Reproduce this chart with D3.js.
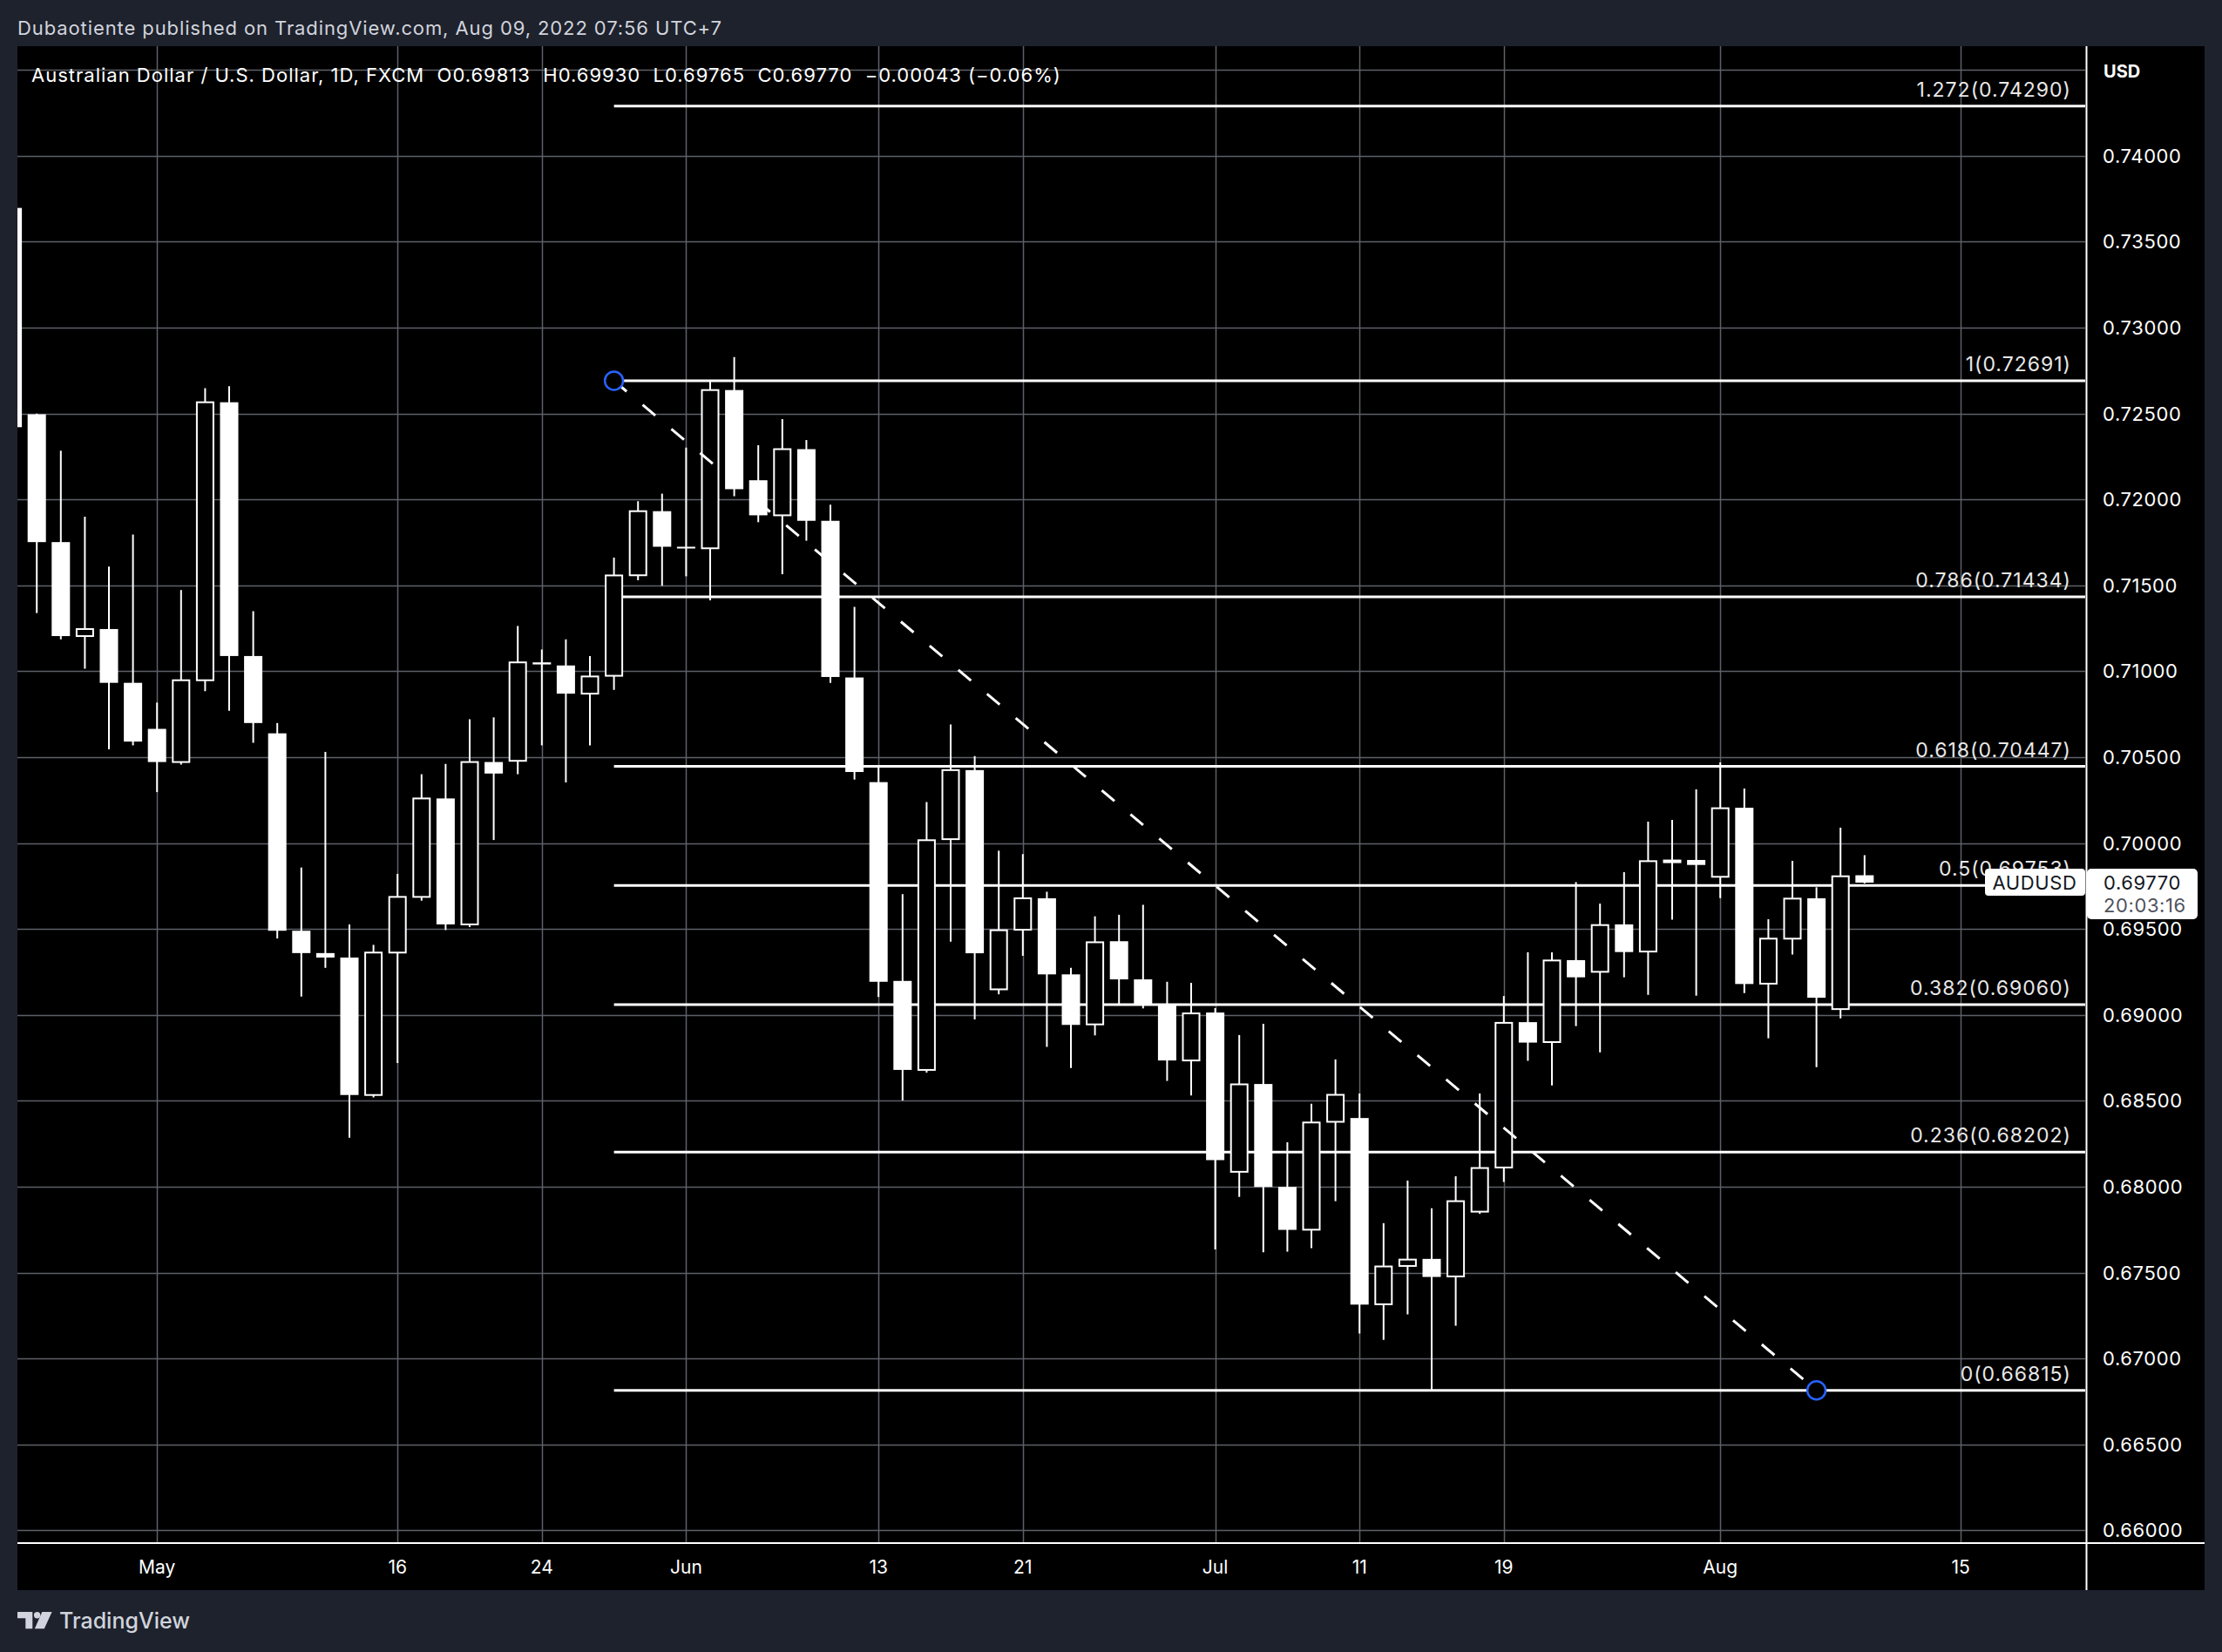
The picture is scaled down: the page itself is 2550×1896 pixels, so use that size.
<!DOCTYPE html>
<html><head><meta charset="utf-8">
<script src="https://cdn.jsdelivr.net/npm/d3@7"></script>
<style>html,body{margin:0;padding:0;background:#1e222d;}svg{display:block}</style>
</head><body>
<svg id="chart" width="2550" height="1896"></svg>
<script>
// ---------- DATA ----------
const dates = ["2022-04-22","2022-04-25","2022-04-26","2022-04-27","2022-04-28","2022-04-29",
"2022-05-02","2022-05-03","2022-05-04","2022-05-05","2022-05-06","2022-05-09","2022-05-10","2022-05-11","2022-05-12","2022-05-13",
"2022-05-16","2022-05-17","2022-05-18","2022-05-19","2022-05-20","2022-05-23","2022-05-24","2022-05-25","2022-05-26","2022-05-27",
"2022-05-30","2022-05-31","2022-06-01","2022-06-02","2022-06-03","2022-06-06","2022-06-07","2022-06-08","2022-06-09","2022-06-10",
"2022-06-13","2022-06-14","2022-06-15","2022-06-16","2022-06-17","2022-06-20","2022-06-21","2022-06-22","2022-06-23","2022-06-24",
"2022-06-27","2022-06-28","2022-06-29","2022-06-30","2022-07-01","2022-07-04","2022-07-05","2022-07-06","2022-07-07","2022-07-08",
"2022-07-11","2022-07-12","2022-07-13","2022-07-14","2022-07-15","2022-07-18","2022-07-19","2022-07-20","2022-07-21","2022-07-22",
"2022-07-25","2022-07-26","2022-07-27","2022-07-28","2022-07-29","2022-08-01","2022-08-02","2022-08-03","2022-08-04","2022-08-05",
"2022-08-08","2022-08-09"];
const futureDates = ["2022-08-10","2022-08-11","2022-08-12","2022-08-15","2022-08-16","2022-08-17","2022-08-18","2022-08-19","2022-08-22"];

const opens = [0.73697,0.72496,0.71752,0.71205,0.71246,0.70933,0.70665,0.70472,0.70948,0.72566,0.71089,0.70639,0.69490,0.69360,0.69334,0.68534,
0.69363,0.69687,0.70260,0.69527,0.70472,0.70479,0.71052,0.71034,0.70870,0.70974,0.71559,0.71932,0.71725,0.71716,0.72637,0.72112,0.71908,0.72293,0.71876,0.70964,
0.70355,0.69198,0.68680,0.70023,0.70425,0.69149,0.69496,0.69679,0.69236,0.68945,0.69429,0.69207,0.69061,0.68735,0.69014,0.68087,0.68598,0.67999,0.67750,0.68378,
0.68400,0.67316,0.67539,0.67580,0.67478,0.67855,0.68112,0.68958,0.68842,0.69319,0.69251,0.69527,0.69369,0.69895,0.69902,0.69804,0.70206,0.69182,0.69444,0.69679,
0.69034,0.69813];
const highs = [0.73780,0.72500,0.72284,0.71900,0.71610,0.71796,0.70818,0.71473,0.72648,0.72659,0.71350,0.70699,0.69858,0.70531,0.69527,0.69408,
0.69821,0.70401,0.70461,0.70721,0.70732,0.71264,0.71127,0.71186,0.71089,0.71662,0.71990,0.72034,0.72302,0.72689,0.72829,0.72316,0.72468,0.72346,0.71970,0.71375,
0.70440,0.69703,0.70239,0.70690,0.70507,0.69956,0.69936,0.69717,0.69274,0.69574,0.69583,0.69641,0.69193,0.69187,0.69040,0.68883,0.68949,0.68259,0.68483,0.68741,
0.68543,0.67788,0.68036,0.67874,0.68061,0.68543,0.69110,0.69365,0.69364,0.69773,0.69648,0.69831,0.70125,0.70135,0.70313,0.70470,0.70318,0.69557,0.69897,0.69743,
0.70090,0.69930];
const lows = [0.72380,0.71339,0.71186,0.71015,0.70546,0.70569,0.70297,0.70457,0.70885,0.70770,0.70584,0.69445,0.69107,0.69274,0.68285,0.68520,
0.68720,0.69665,0.69494,0.69512,0.70018,0.70401,0.70569,0.70353,0.70569,0.70892,0.71530,0.71498,0.71553,0.71413,0.72019,0.71868,0.71565,0.71760,0.70932,0.70370,
0.69105,0.68502,0.68665,0.69426,0.68974,0.69120,0.69344,0.68814,0.68691,0.68881,0.69061,0.69038,0.68616,0.68531,0.67635,0.67941,0.67618,0.67622,0.67642,0.67916,
0.67145,0.67109,0.67257,0.66815,0.67191,0.67842,0.68028,0.68733,0.68590,0.68935,0.68782,0.69219,0.69117,0.69554,0.69112,0.69680,0.69127,0.68864,0.69351,0.68696,
0.68980,0.69765];
const closes = [0.72421,0.71752,0.71205,0.71246,0.70933,0.70591,0.70472,0.70948,0.72566,0.71089,0.70699,0.69490,0.69360,0.69334,0.68534,0.69363,
0.69687,0.70260,0.69527,0.70472,0.70405,0.71052,0.71040,0.70870,0.70970,0.71558,0.71932,0.71725,0.71720,0.72637,0.72060,0.71908,0.72293,0.71876,0.70967,0.70414,
0.69193,0.68680,0.70017,0.70425,0.69359,0.69493,0.69679,0.69236,0.68942,0.69423,0.69207,0.69056,0.68735,0.69009,0.68155,0.68596,0.67999,0.67749,0.68374,0.68535,
0.67314,0.67536,0.67576,0.67475,0.67916,0.68109,0.68954,0.68839,0.69317,0.69219,0.69523,0.69366,0.69895,0.69899,0.69873,0.70203,0.69180,0.69444,0.69677,0.69100,
0.69807,0.69770];

const priceTicks = [0.660,0.665,0.670,0.675,0.680,0.685,0.690,0.695,0.700,0.705,0.710,0.715,0.720,0.725,0.730,0.735,0.740];
const gridPrices = [0.660,0.665,0.670,0.675,0.680,0.685,0.690,0.695,0.700,0.705,0.710,0.715,0.720,0.725,0.730,0.735,0.740,0.745];
const timeTickDates = ["2022-05-02","2022-05-16","2022-05-24","2022-06-01","2022-06-13","2022-06-21","2022-07-01","2022-07-11","2022-07-19","2022-08-01","2022-08-15"];
const timeTickLabels = ["May","16","24","Jun","13","21","Jul","11","19","Aug","15"];

const fibRatios = ["1.272","1","0.786","0.618","0.5","0.382","0.236","0"];
const fibPrices = [0.74290,0.72691,0.71434,0.70447,0.69753,0.69060,0.68202,0.66815];
const fibStartDate = "2022-05-27", fibEndDate = "2022-08-05";
const fibHigh = 0.72691, fibLow = 0.66815;

const headerText = "Dubaotiente published on TradingView.com, Aug 09, 2022 07:56 UTC+7";
const legendText = "Australian Dollar / U.S. Dollar, 1D, FXCM  O0.69813  H0.69930  L0.69765  C0.69770  \u22120.00043 (\u22120.06%)";
const lastPrice = 0.69770, countdown = "20:03:16", symbol = "AUDUSD";

// ---------- LAYOUT ----------
const L = 20, R = 2393, T = 53, B = 1771, AX = 2530, TB = 1825;
const FONT = "Inter, 'Noto Sans', sans-serif";
const svg = d3.select("#chart");

const allDates = dates.concat(futureDates);
const x = d3.scalePoint().domain(allDates).range([14.6, 14.6 + 27.6 * (allDates.length - 1)]);
const y = d3.scaleLinear().domain([0.66, 0.74]).range([1756.4, 178.9]);

// backgrounds
svg.append("rect").attr("width",2550).attr("height",1896).attr("fill","#1e222d");
svg.append("rect").attr("x",L).attr("y",T).attr("width",AX-L).attr("height",TB-T).attr("fill","#000");

svg.append("defs").append("clipPath").attr("id","plotclip")
  .append("rect").attr("x",L).attr("y",T).attr("width",R-L).attr("height",B-T);

// header text
svg.append("text").attr("x",20).attr("y",40).attr("fill","#d1d4dc").attr("font-family",FONT)
  .attr("font-size",22).attr("letter-spacing",0.9).text(headerText);

const plot = svg.append("g").attr("clip-path","url(#plotclip)");

// grid
plot.append("g").selectAll("line").data(gridPrices).join("line")
  .attr("x1",L).attr("x2",R).attr("y1",d=>Math.round(y(d))+0.5).attr("y2",d=>Math.round(y(d))+0.5)
  .attr("stroke","#5d6068").attr("stroke-width",1.5);
plot.append("g").selectAll("line").data(timeTickDates).join("line")
  .attr("x1",d=>Math.round(x(d))+0.5).attr("x2",d=>Math.round(x(d))+0.5).attr("y1",T).attr("y2",B)
  .attr("stroke","#5d6068").attr("stroke-width",1.5);

// legend line
svg.append("text").attr("x",36).attr("y",94).attr("fill","#ffffff").attr("font-family",FONT)
  .attr("font-size",22).attr("letter-spacing",1.0).style("white-space","pre").text(legendText);

// fib lines
const fibG = plot.append("g");
fibG.selectAll("line").data(fibPrices).join("line")
  .attr("x1",x(fibStartDate)).attr("x2",R).attr("y1",d=>y(d)).attr("y2",d=>y(d))
  .attr("stroke","#ffffff").attr("stroke-width",3);

// candles
const candles = dates.map((d,i)=>({d, o:opens[i], h:highs[i], l:lows[i], c:closes[i]}));
const cg = plot.append("g");
cg.selectAll("line").data(candles).join("line")
  .attr("x1",d=>x(d.d)).attr("x2",d=>x(d.d)).attr("y1",d=>y(d.h)).attr("y2",d=>y(d.l))
  .attr("stroke","#fff").attr("stroke-width",2);
cg.selectAll("rect").data(candles).join("rect")
  .each(function(d){
    const up = d.c >= d.o;
    const top = y(Math.max(d.o,d.c)), bot = y(Math.min(d.o,d.c));
    const h = Math.max(2, bot-top);
    const s = d3.select(this);
    if (up) {
      s.attr("x",x(d.d)-9.5).attr("width",19).attr("y",top).attr("height",Math.max(1,h))
       .attr("fill","#000").attr("stroke","#fff").attr("stroke-width",2);
    } else {
      s.attr("x",x(d.d)-10.5).attr("width",21).attr("y",top).attr("height",h).attr("fill","#fff");
    }
  });

// dashed trend line + anchors
plot.append("line")
  .attr("x1",x(fibStartDate)).attr("y1",y(fibHigh)).attr("x2",x(fibEndDate)).attr("y2",y(fibLow))
  .attr("stroke","#fff").attr("stroke-width",3).attr("stroke-dasharray","19,24");
plot.selectAll("circle.anchor").data([[fibStartDate,fibHigh],[fibEndDate,fibLow]]).join("circle")
  .attr("class","anchor").attr("cx",d=>x(d[0])).attr("cy",d=>y(d[1])).attr("r",10.5)
  .attr("fill","#000").attr("stroke","#2962ff").attr("stroke-width",2.5);

// fib labels
plot.append("g").selectAll("text").data(fibPrices).join("text")
  .attr("x",2377).attr("y",d=>y(d)-11).attr("text-anchor","end")
  .attr("fill","#e8e8e8").attr("font-family",FONT).attr("font-size",23).attr("letter-spacing",1.0)
  .text((d,i)=>`${fibRatios[i]}(${d.toFixed(5)})`);

// symbol tag
const ly = y(lastPrice);
svg.append("rect").attr("x",2278).attr("y",ly-16).attr("width",115).attr("height",31).attr("rx",4).attr("fill","#fff");
svg.append("text").attr("x",2335).attr("y",ly+8).attr("text-anchor","middle").attr("fill","#131722")
  .attr("font-family",FONT).attr("font-size",22).attr("letter-spacing",0.6).text(symbol);

// price axis
const ag = svg.append("g");
ag.selectAll("text").data(priceTicks).join("text")
  .attr("x",2413).attr("y",d=>y(d)+8).attr("fill","#ffffff").attr("font-family",FONT)
  .attr("font-size",22).attr("letter-spacing",0.6).text(d=>d.toFixed(5));
svg.append("text").attr("x",2414).attr("y",89).attr("fill","#ffffff").attr("font-family",FONT)
  .attr("font-size",20).attr("font-weight",700).text("USD");

// last price tag
svg.append("rect").attr("x",2395).attr("y",ly-16).attr("width",127).attr("height",58).attr("rx",5).attr("fill","#fff");
svg.append("text").attr("x",2414).attr("y",ly+8).attr("fill","#131722").attr("font-family",FONT)
  .attr("font-size",22).attr("letter-spacing",0.6).text(lastPrice.toFixed(5));
svg.append("text").attr("x",2414).attr("y",ly+34).attr("fill","#50535e").attr("font-family",FONT)
  .attr("font-size",22).attr("letter-spacing",0.6).text(countdown);

// axis borders
svg.append("line").attr("x1",L).attr("x2",AX).attr("y1",B).attr("y2",B).attr("stroke","#fff").attr("stroke-width",2);
svg.append("line").attr("x1",2394.5).attr("x2",2394.5).attr("y1",T).attr("y2",TB).attr("stroke","#fff").attr("stroke-width",2);

// time axis labels
svg.append("g").selectAll("text").data(timeTickDates).join("text")
  .attr("x",d=>x(d)).attr("y",1806).attr("text-anchor","middle").attr("fill","#ffffff")
  .attr("font-family",FONT).attr("font-size",21).text((d,i)=>timeTickLabels[i]);

// footer logo
const lg = svg.append("g").attr("fill","#d1d4dc");
lg.append("path").attr("d","M20,1850 H37.3 V1869.3 H29.3 V1857.3 H20 Z");
lg.append("circle").attr("cx",42.6).attr("cy",1853.7).attr("r",3.7);
lg.append("path").attr("d","M48.3,1850 H59.6 L50.8,1869.3 H39.8 Z");
svg.append("text").attr("x",68).attr("y",1869).attr("fill","#d1d4dc").attr("font-family",FONT)
  .attr("font-size",25).attr("font-weight",500).text("TradingView");
</script>
</body></html>
